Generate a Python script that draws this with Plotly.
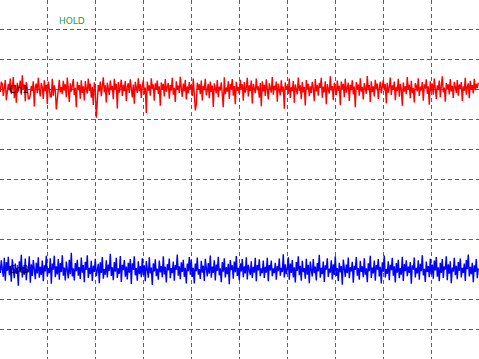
import plotly.graph_objects as go

# Channel samples in mV (1 division = 100 mV), 480 samples across 10 divisions
ch1_mv = [
    312, 291, 325, 318, 278, 305, 331, 264, 288, 318, 297, 336, 285, 302, 341, 270, 314, 255, 322, 293, 308, 329, 282, 347,
    299, 316, 260, 324, 303, 268, 268, 281, 311, 295, 327, 243, 309, 319, 287, 338, 300, 276, 321, 306, 268, 330, 294, 315,
    251, 326, 304, 275, 275, 335, 279, 313, 298, 233, 266, 310, 332, 290, 307, 284, 328, 296, 317, 274, 339, 301, 258, 320,
    292, 312, 334, 281, 305, 240, 325, 297, 314, 269, 330, 288, 310, 263, 327, 302, 286, 336, 295, 319, 272, 308, 248, 323,
    300, 205, 283, 314, 293, 326, 277, 306, 340, 290, 313, 256, 322, 303, 281, 329, 297, 311, 267, 335, 299, 318, 236, 324,
    289, 307, 332, 278, 315, 294, 328, 261, 309, 320, 288, 333, 301, 273, 316, 252, 325, 304, 288, 337, 294, 317, 271, 311,
    330, 284, 306, 221, 326, 296, 313, 279, 337, 301, 316, 262, 320, 298, 329, 285, 310, 245, 323, 300, 318, 276, 334, 292,
    307, 321, 269, 314, 296, 338, 282, 305, 258, 327, 299, 312, 288, 342, 303, 275, 319, 294, 331, 266, 310, 287, 324, 300,
    315, 278, 336, 293, 230, 249, 322, 301, 317, 284, 329, 263, 311, 297, 335, 280, 304, 318, 270, 326, 291, 313, 241, 320,
    302, 287, 331, 274, 309, 296, 323, 259, 240, 340, 283, 306, 292, 327, 268, 317, 300, 334, 279, 311, 250, 325, 296, 308,
    284, 332, 301, 317, 262, 324, 289, 306, 338, 276, 313, 295, 329, 253, 318, 303, 287, 336, 297, 310, 272, 321, 244, 327,
    293, 315, 278, 333, 300, 266, 320, 306, 289, 341, 282, 312, 297, 326, 259, 318, 304, 280, 330, 292, 309, 235, 323, 298,
    311, 285, 336, 271, 307, 294, 328, 255, 316, 301, 283, 339, 295, 313, 267, 324, 290, 308, 246, 331, 299, 318, 277, 310,
    288, 325, 302, 260, 334, 293, 314, 279, 321, 305, 338, 272, 309, 290, 327, 250, 317, 300, 286, 343, 296, 311, 264, 322,
    306, 281, 329, 295, 312, 248, 326, 299, 318, 274, 335, 289, 304, 322, 261, 315, 297, 330, 283, 309, 240, 324, 301, 316,
    279, 337, 292, 308, 266, 321, 303, 285, 344, 297, 314, 258, 327, 291, 310, 276, 332, 300, 319, 268, 305, 325, 287, 312,
    330, 296, 317, 253, 322, 289, 306, 339, 281, 313, 298, 326, 264, 308, 294, 335, 275, 318, 301, 245, 323, 292, 310, 284,
    341, 299, 315, 270, 328, 287, 304, 256, 320, 311, 293, 337, 278, 309, 296, 324, 262, 316, 302, 333, 285, 310, 249, 327,
    294, 319, 282, 336, 305, 268, 313, 297, 329, 274, 311, 343, 290, 306, 259, 321, 300, 317, 283, 334, 293, 312, 271, 325,
    308, 288, 331, 279, 316, 301, 324, 261, 310, 295, 338, 282, 307, 320, 270, 328, 299, 314, 286, 335, 297, 318, 304, 322,
]

ch2_mv = [
    -285, -312, -270, -294, -325, -262, -338, -276, -305, -258, -320, -289, -341, -267, -302, -330, -281, -315, -296, -355, -273, -308, -252, -327,
    -291, -318, -264, -336, -298, -310, -257, -345, -283, -322, -269, -304, -333, -278, -314, -260, -328, -292, -319, -271, -340, -287, -307, -255,
    -324, -296, -313, -263, -348, -281, -301, -255, -326, -290, -317, -266, -335, -279, -309, -253, -321, -294, -337, -274, -303, -330, -268, -316,
    -245, -324, -297, -337, -279, -306, -268, -321, -293, -332, -261, -311, -286, -343, -275, -300, -253, -329, -295, -316, -272, -339, -288, -309,
    -265, -323, -303, -282, -346, -277, -312, -259, -331, -299, -318, -270, -327, -284, -305, -248, -322, -293, -336, -276, -308, -262, -329, -297,
    -315, -256, -342, -285, -303, -269, -325, -291, -334, -278, -311, -266, -349, -280, -301, -257, -320, -296, -338, -273, -316, -289, -326, -263,
    -319, -287, -340, -273, -301, -328, -260, -314, -294, -352, -280, -307, -267, -323, -298, -335, -271, -310, -289, -326, -257, -317, -292, -344,
    -283, -304, -264, -330, -296, -313, -274, -338, -286, -300, -251, -321, -290, -333, -277, -309, -268, -325, -295, -347, -281, -306, -259, -318,
    -268, -325, -295, -347, -281, -306, -261, -318, -299, -332, -272, -311, -288, -339, -265, -302, -324, -279, -315, -254, -328, -291, -312, -270,
    -337, -284, -305, -258, -320, -297, -343, -276, -308, -263, -327, -293, -316, -282, -350, -269, -303, -287, -331, -274, -310, -256, -322, -295,
    -336, -280, -307, -266, -326, -290, -314, -260, -334, -285, -301, -319, -273, -329, -292, -311, -262, -340, -286, -304, -267, -323, -297, -313,
    -271, -329, -292, -311, -262, -340, -286, -304, -271, -323, -297, -313, -278, -335, -289, -306, -264, -321, -295, -309, -250, -327, -283, -316,
    -299, -260, -335, -281, -312, -269, -327, -293, -344, -276, -305, -257, -320, -288, -338, -272, -309, -296, -331, -265, -318, -285, -346, -274,
    -303, -324, -266, -313, -291, -337, -279, -307, -252, -328, -295, -316, -274, -342, -287, -301, -263, -325, -298, -311, -270, -334, -283, -319,
    -257, -322, -296, -339, -278, -310, -289, -351, -268, -304, -325, -284, -313, -261, -330, -293, -307, -275, -345, -288, -302, -259, -321, -296,
    -335, -272, -309, -290, -326, -263, -318, -297, -343, -280, -306, -255, -329, -294, -314, -271, -338, -286, -301, -266, -324, -292, -347, -277,
    -308, -254, -327, -299, -315, -273, -336, -285, -303, -262, -321, -290, -344, -279, -311, -268, -330, -296, -318, -258, -339, -283, -306, -270,
    -323, -291, -312, -276, -348, -287, -300, -261, -327, -295, -314, -270, -335, -282, -306, -253, -320, -298, -342, -274, -309, -289, -326, -265,
    -317, -284, -331, -271, -304, -259, -325, -293, -340, -278, -312, -266, -329, -290, -301, -257, -336, -283, -315, -273, -346, -294, -308, -262,
    -320, -288, -333, -276, -305, -264, -327, -295, -312, -281, -339, -269, -300, -251, -324, -292, -316, -278, -343, -287, -309, -266, -330, -297,
]

channel_labels = ["Ch1", "Ch2"]
channel_levels = [300, -300]
status_label = "HOLD"

n1 = len(ch1_mv)
time1 = [10.0 * i / n1 for i in range(n1)]
n2 = len(ch2_mv)
time2 = [10.0 * i / n2 for i in range(n2)]

fig = go.Figure()
fig.add_trace(go.Scatter(x=time1, y=ch1_mv, mode="lines",
                         line=dict(color="#ff0000", width=1.4), hoverinfo="skip"))
fig.add_trace(go.Scatter(x=time2, y=ch2_mv, mode="lines",
                         line=dict(color="#0000ff", width=1.4), hoverinfo="skip"))

grid = dict(showgrid=True, gridcolor="#606060", gridwidth=1, griddash="4px,3px",
            zeroline=False, showticklabels=False, ticks="", showline=False)
fig.update_xaxes(range=[0.0146, 9.994], dtick=1, tick0=0, **grid)
fig.update_yaxes(range=[-599, 597.7], dtick=100, tick0=0, **grid)

fig.add_annotation(x=1.52, y=528, text=status_label, showarrow=False,
                   font=dict(family="DejaVu Sans", size=9, color="#1f9a4a"))
for lab, lev in zip(channel_labels, channel_levels):
    fig.add_annotation(x=0.4, y=lev, text=lab, showarrow=False,
                       font=dict(family="DejaVu Sans", size=10, color="#000000"))

fig.update_layout(width=479, height=359, margin=dict(l=0, r=0, t=0, b=0, pad=0),
                  paper_bgcolor="white", plot_bgcolor="white", showlegend=False)

fig.write_html(
    "out.html", config={"displayModeBar": False},
    post_script="document.body.style.margin='0px';document.body.style.overflow='hidden';")
